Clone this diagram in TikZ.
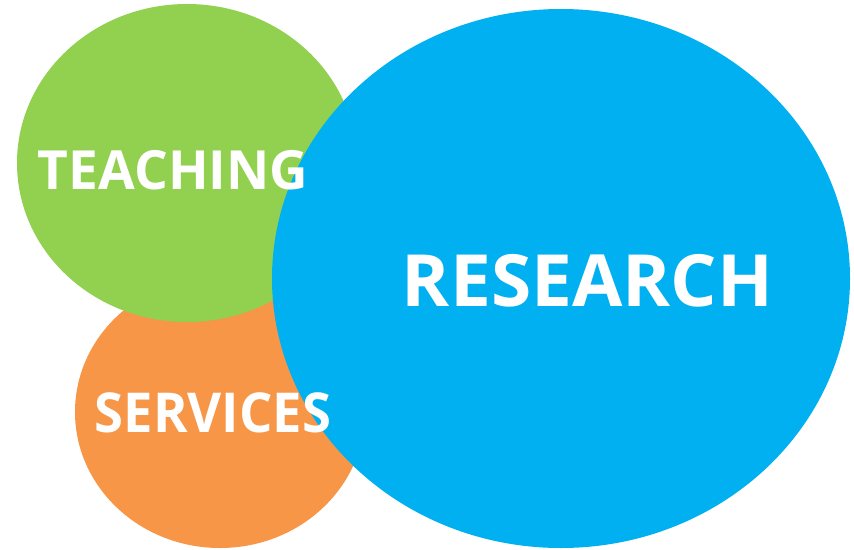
\documentclass[tikz,border=0pt]{standalone}
\usepackage{fontspec}
\setmainfont{Open Sans}
\definecolor{cgreen}{HTML}{92D050}
\definecolor{corange}{HTML}{F79646}
\definecolor{cblue}{HTML}{00B0F0}
\begin{document}
\begin{tikzpicture}[x=1pt,y=-1pt,
  lbl/.style={text=white,inner sep=0pt,font=\bfseries}]
\useasboundingbox (0,0) rectangle (854,549);
\fill[corange] (220,412) ellipse [x radius=145, y radius=136];
\fill[cgreen] (187,163) ellipse [x radius=170, y radius=159];
\fill[cblue] (561,278.5) ellipse [x radius=289, y radius=269.5];
\node[lbl,font=\bfseries\fontsize{54}{60}\selectfont] (teaching) at (173,170.5) {\scalebox{0.985}[1]{TEACHING}};
\node[lbl,font=\bfseries\fontsize{55}{60}\selectfont] (services) at (213,413) {\scalebox{0.955}[1]{SERVICES}};
\node[lbl,font=\bfseries\fontsize{72}{80}\selectfont] (research) at (587.5,281) {\scalebox{1.014}[1]{RESEARCH}};
\end{tikzpicture}
\end{document}
